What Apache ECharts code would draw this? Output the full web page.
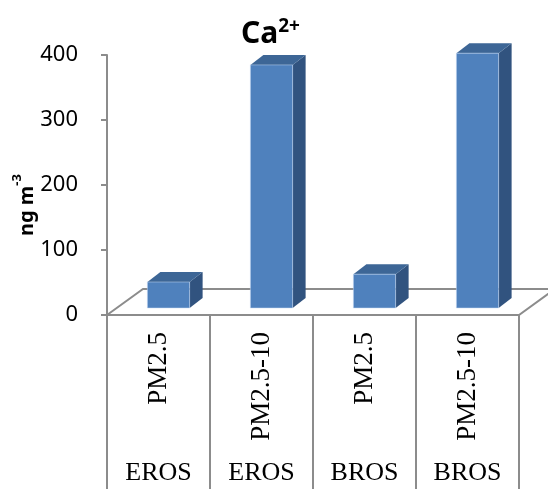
<!DOCTYPE html>
<html>
<head>
    <meta charset="utf-8">
    <title>Ca2+</title>
    <script src="https://cdn.jsdelivr.net/npm/echarts@6/dist/echarts.min.js"></script>
    <style type="text/css">
        * {
            margin: 0;
            padding: 0;
        }

        #main {
            width: 548px;
            height: 489px;
            background: #fff;
        }
    </style>
</head>
<body>
<div id="main"></div>
<script type="text/javascript">
    // data
    var fractions = ['PM2.5', 'PM2.5-10', 'PM2.5', 'PM2.5-10'];
    var sites = ['EROS', 'EROS', 'BROS', 'BROS'];
    var values = [40, 374, 52, 392];
    var yTicks = [0, 100, 200, 300, 400];

    var gray = '#8c8c8c';
    var frontColor = '#4f81bd';
    var topColor = '#3d6696';
    var sideColor = '#31537f';

    var myChart = echarts.init(document.getElementById('main'));

    var barData = values.map(function (v, i) {
        return [i, v];
    });

    // floor of the 3d box, drawn from the grid rectangle
    function renderFloor(params, api) {
        var cs = params.coordSys;
        var dx = 36, dy = -26;
        var xl = cs.x, xr = cs.x + cs.width, yb = cs.y + cs.height;
        return {
            type: 'polygon',
            shape: {
                points: [[xl, yb], [xl + dx, yb + dy], [xr + dx, yb + dy], [xr, yb]]
            },
            style: {
                fill: '#fff',
                stroke: gray,
                lineWidth: 2
            }
        };
    }

    // 3d column: front face + top + right side
    function renderBar(params, api) {
        var top = api.coord([api.value(0), api.value(1)]);
        var base = api.coord([api.value(0), 0]);
        var bw = api.size([1, 0])[0] * 0.41;
        var sx = 13, sy = -10;
        var x0 = top[0] + 10 - bw / 2;
        var x1 = x0 + bw;
        var yt = top[1] - 7;
        var yb = base[1] - 7;
        return {
            type: 'group',
            children: [
                {
                    type: 'polygon',
                    shape: {points: [[x1, yt], [x1 + sx, yt + sy], [x1 + sx, yb + sy], [x1, yb]]},
                    style: {fill: sideColor}
                },
                {
                    type: 'polygon',
                    shape: {points: [[x0, yt], [x0 + sx, yt + sy], [x1 + sx, yt + sy], [x1, yt]]},
                    style: {fill: topColor}
                },
                {
                    type: 'rect',
                    shape: {x: x0, y: yt, width: bw, height: yb - yt},
                    style: {fill: frontColor, stroke: 'rgba(200,220,245,0.5)', lineWidth: 1}
                }
            ]
        };
    }

    var option = {
        animation: false,
        title: {
            text: '{b|Ca}{s|2+}',
            left: 236,
            top: 12,
            textStyle: {
                rich: {
                    b: {fontFamily: 'Noto Sans', fontWeight: 'bold', fontSize: 30, color: '#000', lineHeight: 32, verticalAlign: 'bottom'},
                    s: {fontFamily: 'Noto Sans', fontWeight: 'bold', fontSize: 19, color: '#000', lineHeight: 32, verticalAlign: 'top'}
                }
            }
        },
        // y axis title, rotated
        graphic: [
            {
                type: 'text',
                x: 24,
                y: 205,
                rotation: Math.PI / 2,
                style: {
                    text: '{a|ng m}{s|-3}',
                    align: 'center',
                    verticalAlign: 'middle',
                    rich: {
                        a: {fontFamily: 'Noto Sans', fontWeight: 'bold', fontSize: 20, fill: '#000', lineHeight: 26, verticalAlign: 'bottom'},
                        s: {fontFamily: 'Noto Sans', fontWeight: 'bold', fontSize: 13, fill: '#000', lineHeight: 26, verticalAlign: 'top'}
                    }
                }
            }
        ],
        grid: {
            left: 107,
            right: 29,
            top: 55,
            bottom: 174
        },
        xAxis: [
            {
                type: 'category',
                data: fractions,
                axisLine: {show: true, lineStyle: {color: gray, width: 2}},
                axisTick: {show: true, length: 174, lineStyle: {color: gray, width: 2}},
                axisLabel: {
                    rotate: 90,
                    margin: 17,
                    align: 'right',
                    verticalAlign: 'middle',
                    color: '#000',
                    fontFamily: 'Liberation Serif',
                    fontSize: 27
                }
            },
            {
                type: 'category',
                data: sites,
                position: 'bottom',
                axisLine: {show: false},
                axisTick: {show: false},
                axisLabel: {
                    margin: 145,
                    color: '#000',
                    fontFamily: 'Liberation Serif',
                    fontSize: 26
                }
            }
        ],
        yAxis: {
            type: 'value',
            min: yTicks[0],
            max: yTicks[yTicks.length - 1],
            interval: 100,
            axisLine: {show: true, lineStyle: {color: gray, width: 2}},
            axisTick: {show: true, length: 6, lineStyle: {color: gray, width: 2}},
            splitLine: {show: false},
            axisLabel: {
                margin: 29,
                color: '#000',
                fontFamily: 'Noto Sans',
                fontSize: 22
            }
        },
        series: [
            {
                name: 'floor',
                type: 'custom',
                renderItem: renderFloor,
                data: [0],
                z: 1,
                silent: true
            },
            {
                name: 'Ca2+',
                type: 'custom',
                renderItem: renderBar,
                data: barData,
                encode: {x: 0, y: 1},
                z: 3
            }
        ]
    };

    myChart.setOption(option);
</script>
</body>
</html>
